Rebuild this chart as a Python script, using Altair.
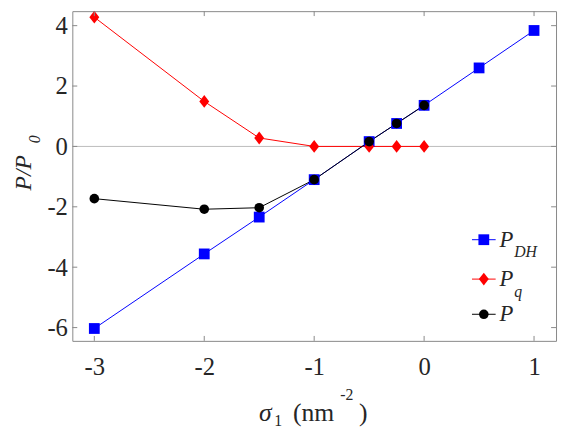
import altair as alt
import pandas as pd

# ---- data ----
sigma_dh = [-3, -2, -1.5, -1, -0.5, -0.25, 0, 0.5, 1]
p_dh = [-6.03, -3.56, -2.34, -1.10, 0.16, 0.76, 1.36, 2.60, 3.84]
sigma_q = [-3, -2, -1.5, -1, -0.5, -0.25, 0]
p_q = [4.28, 1.49, 0.28, 0.0, 0.0, 0.0, 0.0]
sigma_p = [-3, -2, -1.5, -1, -0.5, -0.25, 0]
p_tot = [-1.73, -2.08, -2.03, -1.10, 0.16, 0.76, 1.36]
x_ticks = [-3, -2, -1, 0, 1]
y_ticks = [-6, -4, -2, 0, 2, 4]
x_domain = [-3.2, 1.2]
y_domain = [-6.44, 4.48]

W, H = 491, 334.7
FONT = "'Liberation Serif', 'Times New Roman', 'DejaVu Serif', serif"
TXT = "#262626"
FRAME = "#888888"

df_dh = pd.DataFrame({"x": sigma_dh, "y": p_dh})
df_q = pd.DataFrame({"x": sigma_q, "y": p_q})
df_p = pd.DataFrame({"x": sigma_p, "y": p_tot})

xs = alt.Scale(domain=x_domain, nice=False, zero=False)
ys = alt.Scale(domain=y_domain, nice=False, zero=False)

LBL = "'' + datum.value"
X = alt.X("x:Q", scale=xs, axis=alt.Axis(values=x_ticks, ticks=False, domain=False, grid=False,
                                           labelFont=FONT, labelFontSize=25, labelColor=TXT,
                                           labelPadding=14, title=None, labelExpr=LBL))
Y = alt.Y("y:Q", scale=ys, axis=alt.Axis(values=y_ticks, ticks=False, domain=False, grid=False,
                                           labelFont=FONT, labelFontSize=25, labelColor=TXT,
                                           labelPadding=5, title=None, labelExpr=LBL))
Xn = alt.X("x:Q", scale=xs)
Yn = alt.Y("y:Q", scale=ys)

zero = alt.Chart(pd.DataFrame({"y": [0]})).mark_rule(color="#bbbbbb", strokeWidth=1).encode(y=Yn)

diamond = "M0,-1.1L0.85,0L0,1.1L-0.85,0Z"
DSIZE = 140

dh_line = alt.Chart(df_dh).mark_line(color="#0000ff", strokeWidth=1).encode(x=X, y=Y)
dh_pts = alt.Chart(df_dh).mark_point(shape="square", filled=True, color="#0000ff", size=120, opacity=1).encode(x=Xn, y=Yn)
q_line = alt.Chart(df_q).mark_line(color="#ff0000", strokeWidth=1).encode(x=Xn, y=Yn)
q_pts = alt.Chart(df_q).mark_point(shape=diamond, filled=True, color="#ff0000", size=DSIZE, opacity=1).encode(x=Xn, y=Yn)
p_line = alt.Chart(df_p).mark_line(color="#000000", strokeWidth=1).encode(x=Xn, y=Yn)
p_pts = alt.Chart(df_p).mark_point(shape="circle", filled=True, color="#000000", size=95, opacity=1).encode(x=Xn, y=Yn)

# inward ticks on all four sides
tk = 5
xt = pd.DataFrame({"x": x_ticks})
yt = pd.DataFrame({"y": y_ticks})
xb = alt.Chart(xt).mark_rule(color=FRAME).encode(x=Xn, y=alt.value(H), y2=alt.value(H - tk))
xtp = alt.Chart(xt).mark_rule(color=FRAME).encode(x=Xn, y=alt.value(0), y2=alt.value(tk))
yl = alt.Chart(yt).mark_rule(color=FRAME).encode(y=Yn, x=alt.value(0), x2=alt.value(tk))
yr = alt.Chart(yt).mark_rule(color=FRAME).encode(y=Yn, x=alt.value(W), x2=alt.value(W - tk))

layers = [zero, dh_line, q_line, p_line, dh_pts, q_pts, p_pts, xb, xtp, yl, yr]

def txt(s, x, y, size, italic=False, angle=0, align="left", baseline="alphabetic"):
    return alt.Chart(pd.DataFrame({"t": [s]})).mark_text(
        font=FONT, fontSize=size, fontStyle="italic" if italic else "normal", color=TXT,
        angle=angle, align=align, baseline=baseline
    ).encode(text="t:N", x=alt.value(x), y=alt.value(y))

# legend
leg = [
    ("#0000ff", "square", 120, "DH", 232),
    ("#ff0000", diamond, DSIZE, "q", 272),
    ("#000000", "circle", 95, "", 307.7),
]
lx0, lx1, mx = 405.7, 429.7, 417.7
for col, shp, sz, sub, ly in leg:
    layers.append(alt.Chart(pd.DataFrame({"a": [0]})).mark_rule(color=col, strokeWidth=1).encode(
        x=alt.value(lx0), x2=alt.value(lx1), y=alt.value(ly)))
    layers.append(alt.Chart(pd.DataFrame({"a": [0]})).mark_point(
        shape=shp, filled=True, color=col, size=sz, opacity=1).encode(x=alt.value(mx), y=alt.value(ly)))
    layers.append(txt("P", 433.5, ly + 7, 23, italic=True))
    if sub:
        layers.append(txt(sub, 448.5, ly + 18, 16, italic=True))

# y title  P/P0
layers.append(txt("P/P", -42, 164, 24, italic=True, angle=270, align="center"))
layers.append(txt("0", -33, 130, 16, italic=True, angle=270, align="center"))

# x title  σ1 (nm^-2)
layers.append(txt("σ", 189.5, 416, 26, italic=True))
layers.append(txt("1", 205, 421, 16))
layers.append(txt("(nm", 224, 416, 26))
layers.append(txt("-2", 272, 395, 16))
layers.append(txt(")", 291, 416, 26))

chart = alt.layer(*layers).properties(
    width=W, height=H,
    autosize=alt.AutoSizeParams(type="none"),
    padding={"left": 65.3, "top": 0, "right": 2, "bottom": 90},
).configure_view(stroke=FRAME, strokeWidth=1)

chart.save("out.html", embed_options={"renderer": "svg", "actions": False})
